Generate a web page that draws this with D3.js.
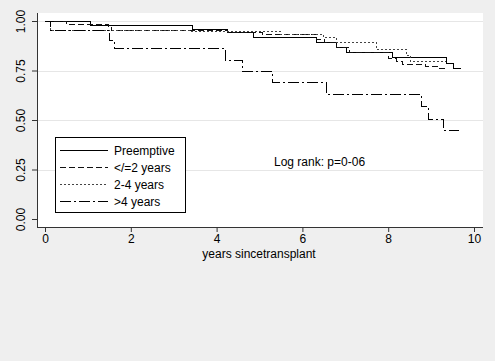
<!DOCTYPE html>
<html>
<head>
<meta charset="utf-8">
<script src="https://cdn.jsdelivr.net/npm/d3@7"></script>
<style>
  html, body { margin: 0; padding: 0; background: #efefef; }
  svg { display: block; font-family: "Liberation Sans", Arial, sans-serif; }
</style>
</head>
<body>
<svg width="495" height="361"></svg>
<script>
(function () {
    "use strict";

    // Kaplan-Meier steps: time (years) and survival
    var preTime = [0, 1.07, 3.44, 4.26, 4.86, 6.33, 6.79, 7.02, 8.09, 9.37, 9.53, 9.70];
    var preSurv = [1.0, 0.98, 0.962, 0.944, 0.919, 0.894, 0.869, 0.843, 0.818, 0.788, 0.763, 0.763];

    var le2Time = [0, 0.5, 1.47, 1.56, 4.26, 5.07, 6.33, 6.51, 6.79, 7.09, 8.0, 8.19, 8.33, 8.88, 9.19, 9.35];
    var le2Surv = [1.0, 0.985, 0.97, 0.955, 0.944, 0.934, 0.909, 0.894, 0.869, 0.843, 0.813, 0.798, 0.783, 0.773, 0.763, 0.763];

    var midTime = [0, 0.12, 3.4, 5.5, 6.5, 6.79, 7.72, 8.42, 8.53, 9.12, 9.35];
    var midSurv = [1.0, 0.955, 0.95, 0.934, 0.919, 0.894, 0.859, 0.828, 0.798, 0.798, 0.798];

    var gt4Time = [0, 0.12, 1.5, 1.63, 4.21, 4.6, 5.3, 6.56, 8.77, 8.95, 9.3, 9.65];
    var gt4Surv = [1.0, 0.955, 0.905, 0.864, 0.803, 0.747, 0.692, 0.631, 0.571, 0.505, 0.449, 0.449];

    var groupNames = ['Preemptive', '</=2 years', '2-4 years', '>4 years'];
    var xTicks = [0, 2, 4, 6, 8, 10];
    var yTicks = [0, 0.25, 0.5, 0.75, 1];

    var dashes = ['none', '6,3', '2,2', '11,3,2,3'];
    var strokes = ['#000', '#111', '#444', '#000'];

    function zip(times, surv) {
        return times.map(function (t, i) { return { time: t, value: surv[i] }; });
    }

    var groups = [zip(preTime, preSurv), zip(le2Time, le2Surv), zip(midTime, midSurv), zip(gt4Time, gt4Surv)];

    var svg = d3.select('svg');

    var x = d3.scaleLinear().domain([0, 10]).range([45, 474]);
    var y = d3.scaleLinear().domain([0, 1]).range([219, 21]);

    // Plot region
    svg.append('rect')
        .attr('x', 37).attr('y', 13)
        .attr('width', 446).attr('height', 214)
        .attr('fill', '#fff');

    // Grid lines
    svg.append('g')
        .selectAll('line')
        .data(yTicks.filter(function (d) { return d > 0; }))
        .enter()
        .append('line')
        .attr('x1', 37).attr('x2', 483)
        .attr('y1', function (d) { return Math.round(y(d)) + 0.5; })
        .attr('y2', function (d) { return Math.round(y(d)) + 0.5; })
        .attr('stroke', '#e6e6e6')
        .attr('stroke-width', 1);

    // Survival curves
    var line = d3.line()
        .curve(d3.curveStepAfter)
        .x(function (d) { return x(d.time); })
        .y(function (d) { return Math.round(y(d.value)) + 0.5; });

    groups.forEach(function (g, i) {
        svg.append('path')
            .datum(g)
            .attr('fill', 'none')
            .attr('stroke', strokes[i])
            .attr('stroke-width', 1)
            .attr('stroke-dasharray', dashes[i])
            .attr('shape-rendering', 'crispEdges')
            .attr('d', line);
    });

    // Axes
    var xAxis = svg.append('g')
        .attr('transform', 'translate(0,227)')
        .call(d3.axisBottom(x).tickValues(xTicks).tickSize(5).tickPadding(2).tickFormat(d3.format('d')));
    xAxis.select('.domain').attr('d', 'M37,0.5H483').attr('stroke', '#333');
    xAxis.selectAll('.tick line').attr('stroke', '#333');
    xAxis.selectAll('.tick text')
        .attr('font-size', 12)
        .attr('font-family', '"Liberation Sans", Arial, sans-serif')
        .attr('fill', '#000');

    var yAxis = svg.append('g')
        .attr('transform', 'translate(37,0)')
        .call(d3.axisLeft(y).tickValues(yTicks).tickSize(5).tickFormat(d3.format('.2f')));
    yAxis.select('.domain').attr('d', 'M0.5,13V227').attr('stroke', '#333');
    yAxis.selectAll('.tick line').attr('stroke', '#333');
    yAxis.selectAll('.tick text')
        .attr('x', 0).attr('dy', 0)
        .attr('transform', 'translate(-12,0) rotate(-90)')
        .attr('text-anchor', 'middle')
        .attr('font-size', 12)
        .attr('font-family', '"Liberation Sans", Arial, sans-serif')
        .attr('fill', '#000');

    // Axis title
    svg.append('text')
        .attr('x', 259).attr('y', 258)
        .attr('text-anchor', 'middle')
        .attr('font-size', 12)
        .text('years sincetransplant');

    // Annotation
    svg.append('text')
        .attr('x', 274).attr('y', 166)
        .attr('font-size', 12)
        .text('Log rank: p=0-06');

    // Legend
    var legend = svg.append('g').attr('class', 'legend');
    legend.append('rect')
        .attr('x', 55.5).attr('y', 137.5)
        .attr('width', 130).attr('height', 75)
        .attr('fill', '#fff')
        .attr('stroke', '#000');

    legend.selectAll('line')
        .data(groupNames)
        .enter()
        .append('line')
        .attr('x1', 60).attr('x2', 108)
        .attr('y1', function (d, i) { return 150.5 + i * 17; })
        .attr('y2', function (d, i) { return 150.5 + i * 17; })
        .attr('stroke', function (d, i) { return strokes[i]; })
        .attr('stroke-dasharray', function (d, i) { return dashes[i]; })
        .attr('shape-rendering', 'crispEdges');

    legend.selectAll('text')
        .data(groupNames)
        .enter()
        .append('text')
        .attr('x', 114)
        .attr('y', function (d, i) { return 155 + i * 17; })
        .attr('font-size', 12)
        .text(function (d) { return d; });
})();
</script>
</body>
</html>
